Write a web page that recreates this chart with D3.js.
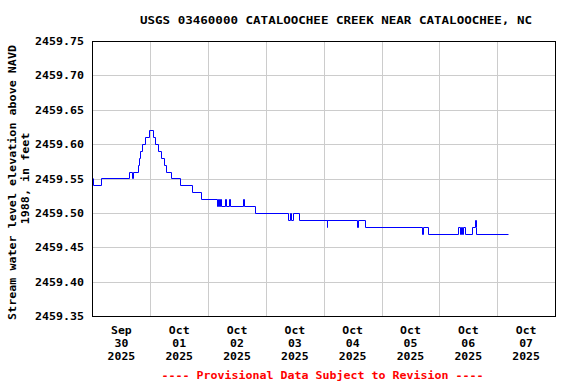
<!DOCTYPE html>
<html>
<head>
<meta charset="utf-8">
<script src="https://cdn.jsdelivr.net/npm/d3@7"></script>
<style>
  html, body { margin: 0; padding: 0; background: #fff; }
  svg { display: block; }
  text { font-family: "DejaVu Sans Mono", monospace; font-weight: bold; }
</style>
</head>
<body>
<svg id="chart" width="576" height="384"></svg>
<script>
// ---------------- DATA ----------------
const titleText = "USGS 03460000 CATALOOCHEE CREEK NEAR CATALOOCHEE, NC";
const yAxisTitle = ["Stream water level elevation above NAVD", "1988, in feet"];
const footerText = "---- Provisional Data Subject to Revision ----";

// series start (local) and hours after start at which the stage changes
const seriesStart = new Date(2025, 8, 30, 0, 0);
const changeHours = [
  0.0, 0.3, 3.6, 15.0, 16.6, 16.9, 18.8, 19.5, 19.9, 20.6, 21.6, 23.4,
  25.0, 26.1, 27.2, 28.5, 29.6, 30.7, 32.6, 36.5, 41.3, 45.2,
  51.7, 52.2, 52.6, 53.0, 53.5, 55.0, 55.4, 56.6, 57.0, 62.5, 62.9,
  67.4, 81.2, 81.9, 82.5, 83.2, 85.6, 97.2, 97.5, 109.8, 110.2, 113.0,
  136.7, 137.4, 139.1, 151.9, 152.6, 153.0, 153.4, 153.9, 154.6,
  157.7, 158.7, 159.1, 159.3, 172.3
];
const stageValues = [
  2459.55, 2459.54, 2459.55, 2459.56, 2459.55, 2459.56, 2459.57, 2459.58, 2459.59, 2459.60, 2459.61, 2459.62,
  2459.61, 2459.60, 2459.59, 2459.58, 2459.57, 2459.56, 2459.55, 2459.54, 2459.53, 2459.52,
  2459.51, 2459.52, 2459.51, 2459.52, 2459.51, 2459.52, 2459.51, 2459.52, 2459.51, 2459.52, 2459.51,
  2459.50, 2459.49, 2459.50, 2459.49, 2459.50, 2459.49, 2459.48, 2459.49, 2459.48, 2459.49, 2459.48,
  2459.47, 2459.48, 2459.47, 2459.48, 2459.47, 2459.48, 2459.47, 2459.48, 2459.47,
  2459.48, 2459.49, 2459.48, 2459.47, 2459.47
];

const yTickValues = [2459.35, 2459.40, 2459.45, 2459.50, 2459.55, 2459.60, 2459.65, 2459.70, 2459.75];
const xDayLabels = [
  ["Sep", "30", "2025"], ["Oct", "01", "2025"], ["Oct", "02", "2025"], ["Oct", "03", "2025"],
  ["Oct", "04", "2025"], ["Oct", "05", "2025"], ["Oct", "06", "2025"], ["Oct", "07", "2025"]
];

// ---------------- CHART ----------------
const svg = d3.select("#chart");
const pL = 92.5, pR = 555, pT = 41, pB = 316;

const x = d3.scaleTime()
  .domain([seriesStart, d3.timeDay.offset(seriesStart, 8)])
  .range([pL, pR]);
const y = d3.scaleLinear()
  .domain([2459.35, 2459.75])
  .range([pB, pT]);

const data = changeHours.map((h, i) => ({
  t: new Date(seriesStart.getTime() + h * 3600 * 1000),
  v: stageValues[i]
}));

// helper: monospaced text with fixed character cell width
function mono(g, str, px, py, size, cw, anchor, color) {
  return g.append("text")
    .attr("x", px).attr("y", py)
    .attr("font-size", size)
    .attr("text-anchor", anchor || "start")
    .attr("fill", color || "#000")
    .attr("textLength", str.length * cw)
    .attr("lengthAdjust", "spacingAndGlyphs")
    .text(str);
}

// gridlines - horizontal
const gy = svg.append("g")
  .attr("transform", `translate(${pL},0)`)
  .call(d3.axisLeft(y).tickValues(yTickValues).tickSize(-(pR - pL)).tickFormat(""));
gy.select(".domain").remove();
gy.selectAll("line").attr("stroke", "#cccccc").attr("shape-rendering", "crispEdges");

// gridlines - vertical at midnights
const midnights = d3.timeDay.range(d3.timeDay.offset(seriesStart, 1), d3.timeDay.offset(seriesStart, 8));
const gx = svg.append("g")
  .attr("transform", `translate(0,${pB})`)
  .call(d3.axisBottom(x).tickValues(midnights).tickSize(-(pB - pT)).tickFormat(""));
gx.select(".domain").remove();
gx.selectAll("line").attr("stroke", "#cccccc").attr("shape-rendering", "crispEdges");

// frame
svg.append("rect")
  .attr("x", pL).attr("y", pT + 0.5)
  .attr("width", pR - pL).attr("height", pB - pT)
  .attr("fill", "none").attr("stroke", "#000").attr("stroke-width", 1)
  .attr("shape-rendering", "crispEdges");

// data line (snapped to pixel centres for a crisp 1px stroke)
const line = d3.line()
  .x(d => Math.max(Math.round(x(d.t)) + 0.5, pL + 1))
  .y(d => Math.round(y(d.v)) + 0.5)
  .curve(d3.curveStepAfter);
svg.append("path")
  .datum(data)
  .attr("fill", "none")
  .attr("stroke", "#0000ff")
  .attr("stroke-width", 1)
  .attr("d", line);

// y tick labels
const yl = svg.append("g");
yTickValues.forEach(v => {
  mono(yl, d3.format(".2f")(v), 84, y(v) + 4, 11, 7.0, "end");
});

// x tick labels (centered at noon of each day)
const xl = svg.append("g");
xDayLabels.forEach((lab, i) => {
  const cx = x(d3.timeHour.offset(seriesStart, 24 * i + 12));
  lab.forEach((s, j) => {
    mono(xl, s, cx, 334 + j * 13, 11, 6.9, "middle");
  });
});

// title
mono(svg, titleText, 336, 24, 11, 7.54, "middle");

// y axis title
const cy = (pT + pB) / 2;
const yt = svg.append("g");
mono(yt, yAxisTitle[0], 0, 0, 11, 7.05, "middle")
  .attr("transform", `translate(16,${cy + 4}) rotate(-90)`);
mono(yt, yAxisTitle[1], 0, 0, 11, 7.05, "middle")
  .attr("transform", `translate(29,${cy}) rotate(-90)`);

// footer
mono(svg, footerText, 322.5, 379, 11, 7.0, "middle", "#ff0000");
</script>
</body>
</html>
